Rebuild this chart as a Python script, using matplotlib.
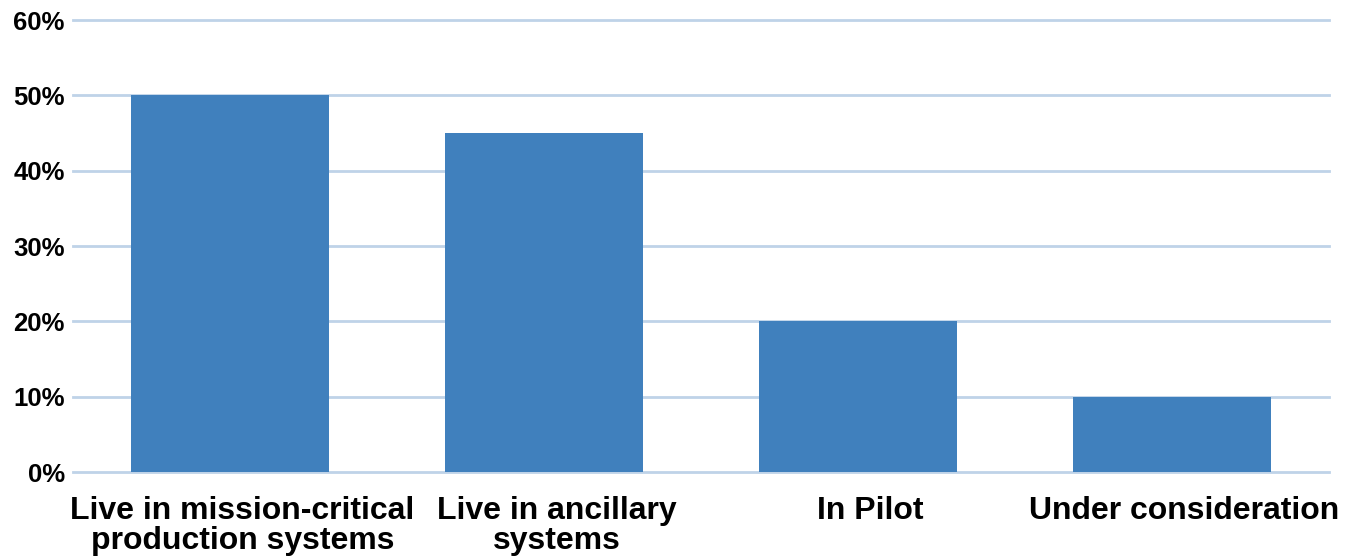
import matplotlib.pyplot as plt
from matplotlib.ticker import FuncFormatter

categories = ["Live in mission-critical\nproduction systems",
              "Live in ancillary\nsystems",
              "In Pilot",
              "Under consideration"]
values = [50, 45, 20, 10]
y_ticks = [0, 10, 20, 30, 40, 50, 60]

bar_color = "#4080BD"
grid_color = "#BFD3E8"

plt.rcParams['font.family'] = ['Liberation Sans', 'DejaVu Sans']

fig = plt.figure(figsize=(13.45, 5.57), dpi=100)
ax = fig.add_axes([73 / 1345, 1 - 472 / 557, (1329 - 73) / 1345, (472 - 20) / 557])

x = list(range(len(categories)))
ax.bar(x, values, width=0.63, color=bar_color, zorder=3)

ax.set_xlim(-0.5, len(categories) - 0.5)
ax.set_ylim(0, 60)
ax.set_yticks(y_ticks)
ax.yaxis.set_major_formatter(FuncFormatter(lambda v, p: f"{v:.0f}%"))
ax.grid(axis='y', color=grid_color, linewidth=2.0, zorder=0)
ax.set_axisbelow(True)
for gl in ax.yaxis.get_gridlines():
    gl.set_clip_on(False)

# labels sit slightly right of the bar centres in the original
ax.set_xticks([i + 0.04 for i in x])
ax.set_xticklabels(categories, fontsize=23, fontweight='bold', linespacing=1.0)
for lbl in ax.get_yticklabels():
    lbl.set_fontsize(18.5)
    lbl.set_fontweight('bold')

ax.tick_params(axis='both', length=0)
ax.tick_params(axis='y', pad=6)
ax.tick_params(axis='x', pad=17)
for s in ax.spines.values():
    s.set_visible(False)

fig.savefig("out.png", dpi=100)
